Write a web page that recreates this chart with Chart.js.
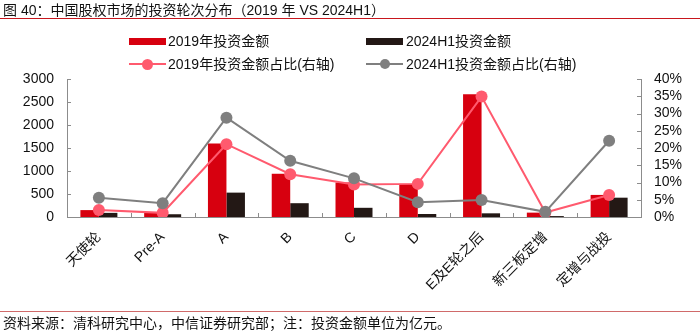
<!DOCTYPE html>
<html>
<head>
<meta charset="utf-8">
<script src="https://cdn.jsdelivr.net/npm/chart.js@4/dist/chart.umd.min.js"></script>
<style>
    body { margin: 0; background: #fff; }
    #wrap { position: relative; width: 700px; height: 332px; font-family: "Liberation Sans", "Noto Sans CJK SC", sans-serif; color: #111; }
    #chart { position: absolute; left: 0; top: 0; }
    .txt { position: absolute; font-size: 14px; line-height: 16px; white-space: nowrap; }
    .hline { position: absolute; left: 0; width: 700px; height: 1px; }
    .sw { position: absolute; height: 7px; width: 37px; }
    .ln { position: absolute; height: 2px; width: 37px; }
    .dot { position: absolute; border-radius: 50%; }
</style>
</head>
<body>
<div id="wrap">
    <canvas id="chart" width="700" height="332"></canvas>
    <div class="txt" style="left:3px; top:2px;">图 40：中国股权市场的投资轮次分布（2019 年 VS 2024H1）</div>
    <div class="hline" style="top:18px; background:#c8161d;"></div>

    <!-- 图例 -->
    <div class="sw" style="left:129px; top:38px; background:#d7000f;"></div>
    <div class="txt" style="left:168px; top:33px;">2019年投资金额</div>
    <div class="sw" style="left:366px; top:38px; background:#231815;"></div>
    <div class="txt" style="left:406px; top:33px;">2024H1投资金额</div>

    <div class="ln" style="left:129px; top:63px; background:#ff5a6e;"></div>
    <div class="dot" style="left:142px; top:59px; width:11px; height:11px; background:#ff5a6e;"></div>
    <div class="txt" style="left:168px; top:56px;">2019年投资金额占比(右轴)</div>
    <div class="ln" style="left:366px; top:63px; background:#7f7f7f;"></div>
    <div class="dot" style="left:380px; top:59px; width:10px; height:10px; background:#7f7f7f;"></div>
    <div class="txt" style="left:406px; top:56px;">2024H1投资金额占比(右轴)</div>

    <div class="hline" style="top:311px; background:#d06a6a;"></div>
    <div class="txt" style="left:3px; top:315px;">资料来源：清科研究中心，中信证券研究部；注：投资金额单位为亿元。</div>
</div>
<script>
    var categories = ['天使轮', 'Pre-A', 'A', 'B', 'C', 'D', 'E及E轮之后', '新三板定增', '定增与战投'];
    var amount2019 = [150, 100, 1600, 940, 750, 720, 2670, 95, 480];
    var amount2024 = [90, 60, 530, 300, 200, 65, 80, 20, 420];
    var share2019 = [2.0, 1.2, 21.1, 12.4, 9.4, 9.6, 34.9, 1.3, 6.4];
    var share2024 = [5.6, 4.0, 28.8, 16.3, 11.2, 4.3, 4.9, 1.5, 22.1];

    var axisColor = '#8c8c8c';
    var tickFont = { family: '"Liberation Sans", "Noto Sans CJK SC", sans-serif', size: 14 };

    // 坐标轴内侧的小刻度
    var innerTicks = {
        id: 'innerTicks',
        afterDraw: function(chart) {
            var ctx = chart.ctx;
            var x = chart.scales.x, yl = chart.scales.y, yr = chart.scales.y1;
            ctx.save();
            ctx.strokeStyle = axisColor;
            ctx.lineWidth = 1;
            ctx.beginPath();
            for (var i = 1; i < categories.length; i++) {
                var px = Math.round((x.getPixelForTick(i - 1) + x.getPixelForTick(i)) / 2) + 0.5;
                ctx.moveTo(px, x.top);
                ctx.lineTo(px, x.top - 4);
            }
            yl.ticks.forEach(function(t) {
                var py = Math.round(yl.getPixelForValue(t.value)) + 0.5;
                ctx.moveTo(yl.right, py);
                ctx.lineTo(yl.right + 4, py);
            });
            yr.ticks.forEach(function(t) {
                var py = Math.round(yr.getPixelForValue(t.value)) + 0.5;
                ctx.moveTo(yr.left, py);
                ctx.lineTo(yr.left - 4, py);
            });
            ctx.stroke();
            ctx.restore();
        }
    };

    var ctx = document.getElementById('chart').getContext('2d');
    var myChart = new Chart(ctx, {
        data: {
            labels: categories,
            datasets: [{
                type: 'line',
                label: '2024H1投资金额占比(右轴)',
                data: share2024,
                yAxisID: 'y1',
                borderColor: '#7f7f7f',
                backgroundColor: '#7f7f7f',
                borderWidth: 2,
                pointRadius: 6,
                pointBorderWidth: 0,
                order: 0
            }, {
                type: 'line',
                label: '2019年投资金额占比(右轴)',
                data: share2019,
                yAxisID: 'y1',
                borderColor: '#ff5a6e',
                backgroundColor: '#ff5a6e',
                borderWidth: 2,
                pointRadius: 6,
                pointBorderWidth: 0,
                order: 1
            }, {
                type: 'bar',
                label: '2019年投资金额',
                data: amount2019,
                yAxisID: 'y',
                backgroundColor: '#d7000f',
                categoryPercentage: 0.58,
                barPercentage: 1,
                order: 2
            }, {
                type: 'bar',
                label: '2024H1投资金额',
                data: amount2024,
                yAxisID: 'y',
                backgroundColor: '#231815',
                categoryPercentage: 0.58,
                barPercentage: 1,
                order: 2
            }]
        },
        options: {
            responsive: false,
            animation: false,
            layout: { padding: { top: 79, bottom: 0, left: 0, right: 0 } },
            plugins: {
                legend: { display: false },
                tooltip: { enabled: false }
            },
            scales: {
                x: {
                    grid: { display: false, drawTicks: false },
                    border: { color: axisColor },
                    ticks: {
                        autoSkip: false,
                        minRotation: 45,
                        maxRotation: 45,
                        padding: 12,
                        color: '#111',
                        font: tickFont
                    },
                    afterFit: function(scale) { scale.height = 115; }
                },
                y: {
                    position: 'left',
                    min: 0,
                    max: 3000,
                    grid: { display: false, drawTicks: false },
                    border: { color: axisColor },
                    ticks: {
                        stepSize: 500,
                        autoSkip: false,
                        padding: 13,
                        color: '#111',
                        font: tickFont,
                        callback: function(v) { return String(v); }
                    },
                    afterFit: function(scale) { scale.width = 67; }
                },
                y1: {
                    position: 'right',
                    min: 0,
                    max: 40,
                    grid: { display: false, drawTicks: false },
                    border: { color: axisColor },
                    ticks: {
                        stepSize: 5,
                        autoSkip: false,
                        padding: 13,
                        color: '#111',
                        font: tickFont,
                        callback: function(v) { return v + '%'; }
                    },
                    afterFit: function(scale) { scale.width = 59; }
                }
            }
        },
        plugins: [innerTicks]
    });
</script>
</body>
</html>
